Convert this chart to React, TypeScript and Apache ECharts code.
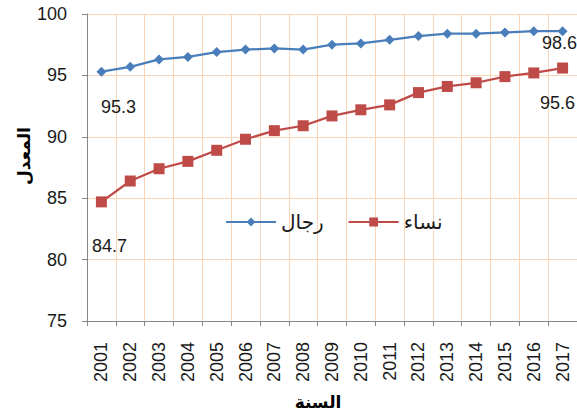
import React, { useEffect, useRef } from "react";
import * as echarts from "echarts";

const years = ["2001","2002","2003","2004","2005","2006","2007","2008","2009","2010","2011","2012","2013","2014","2015","2016","2017"];
const men = [95.3, 95.7, 96.3, 96.5, 96.9, 97.1, 97.2, 97.1, 97.5, 97.6, 97.9, 98.2, 98.4, 98.4, 98.5, 98.6, 98.6];
const women = [84.7, 86.4, 87.4, 88.0, 88.9, 89.8, 90.5, 90.9, 91.7, 92.2, 92.6, 93.6, 94.1, 94.4, 94.9, 95.2, 95.6];
const menName = "رجال";
const womenName = "نساء";
const yTitle = "المعدل";
const xTitle = "السنة";

const FONT = '"Liberation Sans", Arial, "DejaVu Sans", sans-serif';
const TEXT = "#1a1a1a";
const GRID = "#fbd5b5";
const AXIS = "#868686";

function withLabels(values: number[], first: number[], last: number[]) {
  return values.map((v, i) => {
    if (i === 0 || i === values.length - 1) {
      const off = i === 0 ? first : last;
      return {
        value: v,
        label: {
          show: true,
          position: "inside",
          offset: off,
          fontSize: 18,
          color: TEXT,
          fontFamily: FONT,
          formatter: (p: any) => String(p.value),
        },
      };
    }
    return v;
  });
}

export default function App() {
  const ref = useRef<HTMLDivElement>(null);
  useEffect(() => {
    if (!ref.current) return;
    const chart = echarts.init(ref.current, null, { renderer: "svg" });
    chart.setOption({
      animation: false,
      backgroundColor: "#ffffff",
      grid: { left: 87, top: 14, width: 491, height: 307, containLabel: false },
      legend: {
        left: 225,
        top: 212,
        padding: 0,
        itemGap: 24,
        itemWidth: 50,
        itemHeight: 11,
        textStyle: { fontSize: 20, color: TEXT, fontFamily: FONT },
        data: [menName, womenName],
      },
      xAxis: {
        type: "category",
        data: years,
        boundaryGap: true,
        axisLine: { show: true, lineStyle: { color: AXIS, width: 1 } },
        axisTick: { show: true, length: 5, lineStyle: { color: AXIS }, interval: 0 },
        axisLabel: { rotate: 90, margin: 21, fontSize: 18, color: TEXT, fontFamily: FONT, interval: 0 },
        splitLine: { show: true, interval: 0, lineStyle: { color: GRID, width: 1 } },
      },
      yAxis: {
        type: "value",
        min: 75,
        max: 100,
        interval: 5,
        axisLine: { show: true, lineStyle: { color: AXIS, width: 1 } },
        axisTick: { show: true, length: 5, lineStyle: { color: AXIS } },
        axisLabel: { margin: 20, fontSize: 18, color: TEXT, fontFamily: FONT },
        splitLine: { show: true, lineStyle: { color: GRID, width: 1 } },
      },
      graphic: [
        {
          type: "text",
          x: 24,
          y: 156,
          rotation: Math.PI / 2,
          style: {
            text: yTitle,
            fontSize: 17,
            fontWeight: "bold",
            fill: "#000",
            fontFamily: FONT,
            textAlign: "center",
            textVerticalAlign: "middle",
          },
        },
        {
          type: "text",
          x: 318,
          y: 402,
          style: {
            text: xTitle,
            fontSize: 17,
            fontWeight: "bold",
            fill: "#000",
            fontFamily: FONT,
            textAlign: "center",
            textVerticalAlign: "middle",
          },
        },
      ],
      series: [
        {
          name: menName,
          type: "line",
          data: withLabels(men, [17, 35], [-3, 12]),
          symbol: "diamond",
          symbolSize: 10,
          lineStyle: { color: "#4a7ebb", width: 2.25 },
          itemStyle: { color: "#4a7ebb" },
          label: { show: false },
          z: 3,
        },
        {
          name: womenName,
          type: "line",
          data: withLabels(women, [8, 44], [-5, 35]),
          symbol: "rect",
          symbolSize: 11,
          lineStyle: { color: "#be4b48", width: 2.25 },
          itemStyle: { color: "#be4b48" },
          label: { show: false },
          z: 3,
        },
      ],
    });
    return () => chart.dispose();
  }, []);
  return (
    <div
      ref={ref}
      style={{ position: "fixed", left: 0, top: 0, width: 577, height: 410 }}
    />
  );
}
